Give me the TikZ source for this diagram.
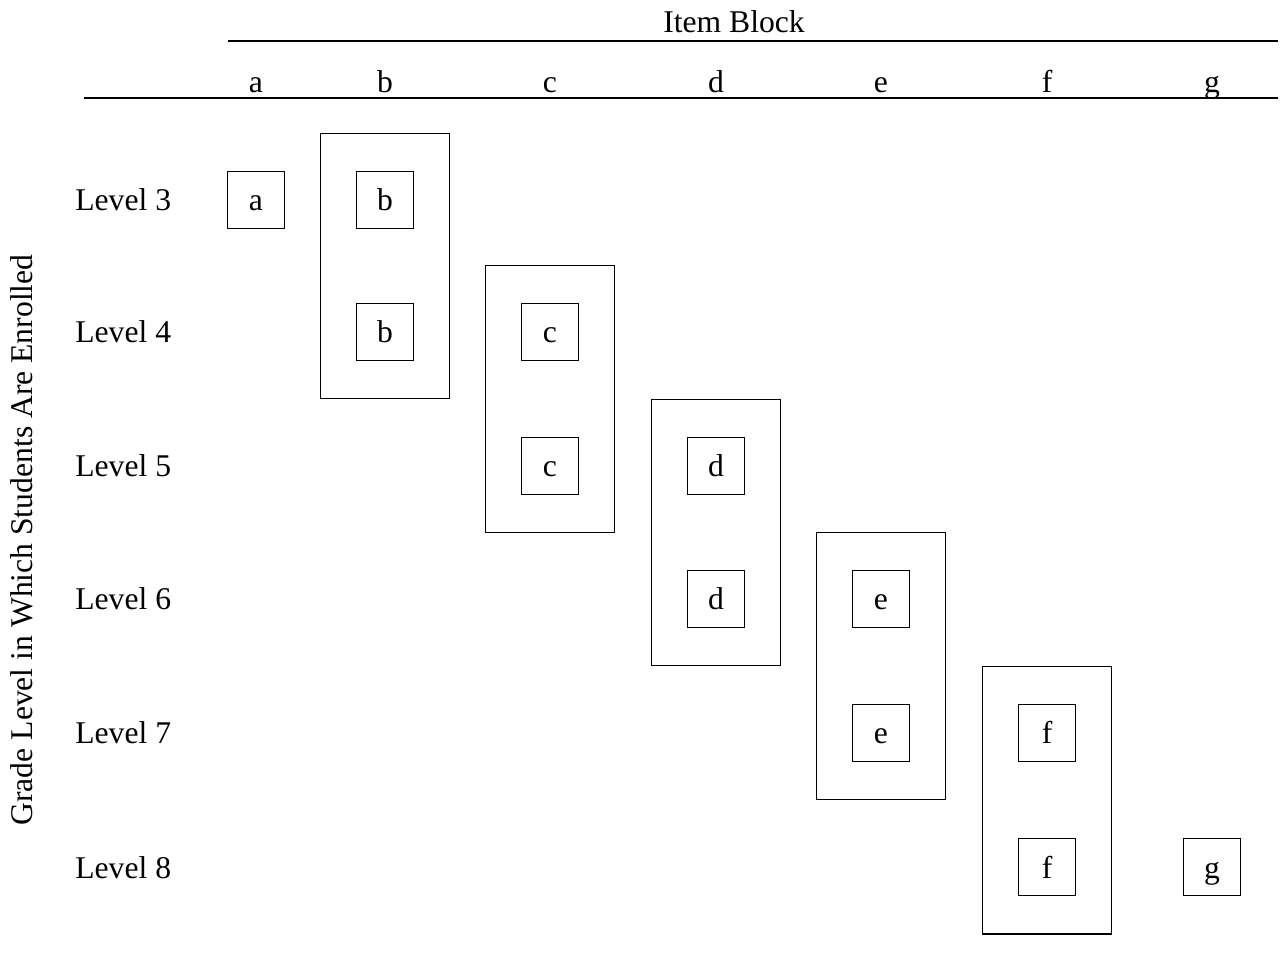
\documentclass[tikz,border=0pt]{standalone}
\usepackage{fontspec}
\setmainfont{Liberation Serif}
\usetikzlibrary{fit}

\tikzset{
  cell/.style={draw, line width=1pt, minimum size=1.14cm, inner sep=0pt,
    text height=15pt, text depth=2.5pt},
  block/.style={draw, line width=0.7pt, inner xsep=0.7cm, inner ysep=0.75cm},
  rule/.style={line width=1.2pt},
  lbl/.style={inner sep=0pt, text height=15pt, text depth=2.5pt}
}

\begin{document}
\begin{tikzpicture}[x=0.02cm, y=-0.02cm, font=\fontsize{18}{22}\selectfont]
		%%%%% START %%%%%
		\useasboundingbox (0, 0) rectangle (1280, 971);
		
		% header
		\node[lbl] (itemblock) at (734, 22) {Item Block};
		\coordinate (topl) at (228, 41);
		\coordinate (topr) at (1278, 41);
		\draw[rule] (topl) -- (topr);
		\node[lbl] (ha) at (256, 82) {a};
		\node[lbl] (hb) at (385, 82) {b};
		\node[lbl] (hc) at (550, 82) {c};
		\node[lbl] (hd) at (716, 82) {d};
		\node[lbl] (he) at (881, 82) {e};
		\node[lbl] (hf) at (1047, 82) {f};
		\node[lbl] (hg) at (1212, 82) {g};
		\coordinate (midl) at (84, 98);
		\coordinate (midr) at (1278, 98);
		\draw[rule] (midl) -- (midr);
		
		% row labels
		\node[lbl, anchor=west] (lv3) at (75, 200) {Level 3};
		\node[lbl, anchor=west] (lv4) at (75, 332) {Level 4};
		\node[lbl, anchor=west] (lv5) at (75, 466) {Level 5};
		\node[lbl, anchor=west] (lv6) at (75, 599) {Level 6};
		\node[lbl, anchor=west] (lv7) at (75, 733) {Level 7};
		\node[lbl, anchor=west] (lv8) at (75, 867) {Level 8};
		\node[lbl, rotate=90] (grade) at (22, 540) {Grade Level in Which Students Are Enrolled};
		
		% item cells
		\node[cell] (a3) at (256, 200) {a};
		\node[cell] (b3) at (385, 200) {b};
		\node[cell] (b4) at (385, 332) {b};
		\node[cell] (c4) at (550, 332) {c};
		\node[cell] (c5) at (550, 466) {c};
		\node[cell] (d5) at (716, 466) {d};
		\node[cell] (d6) at (716, 599) {d};
		\node[cell] (e6) at (881, 599) {e};
		\node[cell] (e7) at (881, 733) {e};
		\node[cell] (f7) at (1047, 733) {f};
		\node[cell] (f8) at (1047, 867) {f};
		\node[cell] (g8) at (1212, 867) {g};
		
		% linking blocks
		\node[block, fit=(b3)(b4)] (blockb) {};
		\node[block, fit=(c4)(c5)] (blockc) {};
		\node[block, fit=(d5)(d6)] (blockd) {};
		\node[block, fit=(e6)(e7)] (blocke) {};
		\node[block, fit=(f7)(f8)] (blockf) {};
		%%%%% END %%%%%
	\end{tikzpicture}
\end{document}
